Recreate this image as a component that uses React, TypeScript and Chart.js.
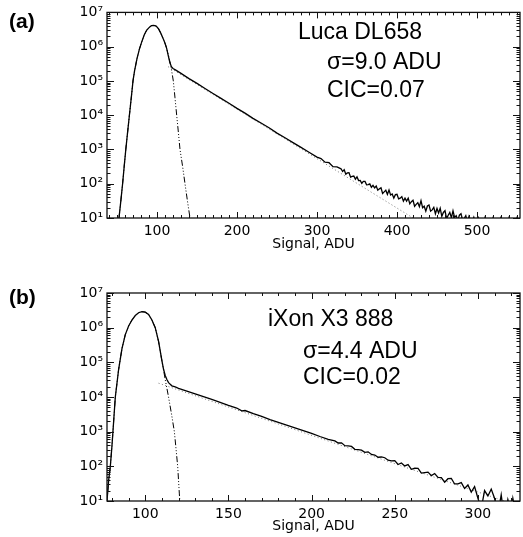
import { useEffect, useRef } from "react";
import { Chart, registerables } from "chart.js";

Chart.register(...registerables);

// ---------- shared ----------
const xTitle = "Signal, ADU";
const yDecades = [1e1, 1e2, 1e3, 1e4, 1e5, 1e6, 1e7];
const yMinorMultipliers = [2, 3, 4, 5, 6, 7, 8, 9];
const superscripts: Record<number, string> = { 1: "¹", 2: "²", 3: "³", 4: "⁴", 5: "⁵", 6: "⁶", 7: "⁷" };

// ---------- panel (a): Luca DL658 ----------
const aDataSignal = [
  48, 50, 52.5, 55, 57, 59, 61, 63, 65.5, 68,
  70, 72, 75, 78, 81, 84, 87, 90, 93, 96,
  99, 102, 105, 108, 110, 112, 114, 116, 118, 120,
  123, 126, 130, 140, 150, 160, 170, 180, 190, 200,
  210, 220, 230, 240, 250, 260, 270, 280, 290, 300,
  305, 310, 315, 320, 325,
  330, 332, 334, 336, 338, 340, 342, 344, 346, 348,
  350, 352, 354, 356, 358, 360, 362, 364, 366, 368,
  370, 372, 374, 376, 378, 380, 382, 384, 386, 388,
  390, 392, 394, 396, 398, 400, 402, 404, 406, 408,
  410, 412, 414, 416, 418, 420, 422, 424, 426, 428,
  430, 432, 434, 436, 438, 440, 442, 444, 446, 448,
  450, 452, 454, 456, 458, 460, 462, 464, 466, 468,
  470, 472, 474, 476, 478, 480, 482, 484, 486, 488,
  490,
  493, 496, 499, 502, 506, 510, 515, 520, 525, 530,
  535, 540, 545, 550, 553,
];
const aDataCounts = [
  1, 2.5, 10, 35, 100, 320, 1000, 2800, 1e4, 3.5e4,
  1e5, 2e5, 4.5e5, 8.5e5, 1.4e6, 2.2e6, 3e6, 3.6e6, 4.1e6, 4.2e6,
  4e6, 3.3e6, 2.4e6, 1.66e6, 1.26e6, 9.1e5, 5.6e5, 3.5e5, 2.6e5, 2.3e5,
  2.1e5, 1.9e5, 1.66e5, 1.17e5, 8.5e4, 6e4, 4.3e4, 3.1e4, 2.24e4, 1.58e4,
  1.15e4, 8100, 5900, 4300, 3000, 2200, 1580, 1150, 830, 600,
  543, 427, 412, 316, 309,
  273, 228, 255, 191, 207, 210, 156, 163, 168, 136,
  158, 124, 125, 103, 117, 117, 93, 94, 99, 79,
  90, 76, 86, 65, 71, 76, 52, 58, 65, 49,
  66, 47, 50, 38, 48, 49, 36, 38, 42, 31,
  38, 31, 38, 26, 30, 33, 22, 25, 28, 21.5,
  32, 20, 22, 15.8, 22.4, 24, 15.8, 17.2, 20.4, 13.3,
  19, 14, 19.3, 11.2, 14.5, 16.3, 9.6, 12, 14.5, 10.2,
  16.2, 10.4, 11.7, 8.5, 12.1, 13.3, 8.8, 9.7, 11.7, 7.7,
  11.2,
  7, 10.5, 6, 10, 5, 10.3, 4, 10, 6, 10.5,
  3, 10, 5, 10.2, 4,
];
const aGaussSignal = [
  48, 50, 52.5, 55, 57, 59, 61, 63, 65.5, 68,
  70, 72, 75, 78, 81, 84, 87, 90, 93, 96,
  99, 102, 105, 108, 110, 112, 115, 118, 120.4, 122.5,
  124.6, 126.7, 128.75, 132, 135, 138, 141.25, 143,
];
const aGaussCounts = [
  1, 2.5, 10, 35, 100, 320, 1000, 2800, 1e4, 3.5e4,
  1e5, 2e5, 4.5e5, 8.5e5, 1.4e6, 2.2e6, 3e6, 3.6e6, 4.1e6, 4.2e6,
  4e6, 3.3e6, 2.4e6, 1.66e6, 1.26e6, 9.1e5, 4.8e5, 2.2e5, 1e5, 3.2e4,
  1e4, 3200, 1000, 320, 100, 32, 10, 5,
];
const aExpSignal = [114, 425];
const aExpCounts = [2.6e5, 8.5];
const aXMin = 37.5;
const aXMax = 553.75;
const aXLabels = [100, 200, 300, 400, 500];
const aNotes = ["Luca DL658", "σ=9.0 ADU", "CIC=0.07"];

// ---------- panel (b): iXon X3 888 ----------
const bDataSignal = [
  76, 77, 78, 79, 80, 81, 82, 84, 86, 88,
  90, 92, 94, 96, 98, 100, 102, 104, 106, 108,
  110, 111, 112, 113, 114, 116, 118, 120, 125, 130,
  135, 140, 145, 150, 155, 158, 160, 165, 170, 175,
  180, 185, 190, 195, 200, 205, 210,
  214, 216, 218, 220, 222, 224, 226, 228, 230, 232,
  234, 236, 238, 240, 242, 244, 246, 248, 250, 252,
  254, 256, 258, 260, 262, 264, 266, 268, 270, 272,
  274, 276, 278, 280, 282, 284, 286, 288, 290, 292,
  294,
  296, 298, 300, 302, 304, 306, 308, 310, 312, 314,
  316, 318, 320, 321, 323, 325,
];
const bDataCounts = [
  2, 10, 40, 100, 400, 2000, 1e4, 6.3e4, 2.5e5, 6.3e5,
  1.12e6, 1.66e6, 2.24e6, 2.7e6, 2.9e6, 2.8e6, 2.4e6, 1.66e6, 1e6, 4e5,
  1.12e5, 6.3e4, 4.2e4, 3.2e4, 2.6e4, 2.1e4, 1.95e4, 1.78e4, 1.48e4, 1.23e4,
  1.02e4, 8500, 7000, 5750, 4800, 4000, 4070, 3300, 2750, 2240,
  1860, 1550, 1290, 1070, 890, 725, 600,
  542, 472, 475, 393, 390, 374, 309, 303, 294, 253,
  262, 221, 212, 183, 186, 177, 150, 144, 146, 113,
  125, 103, 112, 82, 88, 87, 64, 66, 68, 54,
  62, 48, 47, 35, 44, 45, 31, 31, 34, 23,
  29,
  18, 26, 12, 6, 20, 14, 22, 12, 4, 15,
  3, 11, 5, 12, 4, 10,
];
const bGaussSignal = [
  76, 77, 78, 79, 80, 81, 82, 84, 86, 88,
  90, 92, 94, 96, 98, 100, 102, 104, 106, 108,
  110, 112, 114, 116, 117.5, 118.5, 119.5, 120.5, 121.5,
];
const bGaussCounts = [
  2, 10, 40, 100, 400, 2000, 1e4, 6.3e4, 2.5e5, 6.3e5,
  1.12e6, 1.66e6, 2.24e6, 2.7e6, 2.9e6, 2.8e6, 2.4e6, 1.66e6, 1e6, 4e5,
  1.12e5, 3.2e4, 1e4, 2800, 1000, 320, 100, 16, 3,
];
const bExpSignal = [108, 325];
const bExpCounts = [2.5e4, 7.1];
const bXMin = 77;
const bXMax = 325.3;
const bXLabels = [100, 150, 200, 250, 300];
const bNotes = ["iXon X3 888", "σ=4.4 ADU", "CIC=0.02"];

// ---------- chart setup ----------
type PanelCfg = {
  height: number;
  padTop: number;
  xAxisHeight: number;
  titlePad: number;
  xMin: number;
  xMax: number;
  xLabels: number[];
  xMinorStep: number;
  xMajorStep: number;
  dataX: number[];
  dataY: number[];
  gaussX: number[];
  gaussY: number[];
  expX: number[];
  expY: number[];
  notes: string[];
  notePos: [number, number][];
  panelLabel: string;
  panelLabelY: number;
};

const pts = (xs: number[], ys: number[]) => xs.map((x, i) => ({ x, y: ys[i] }));

function decorPlugin(cfg: PanelCfg) {
  return {
    id: "decor",
    afterDatasetsDraw(chart: any) {
      const { ctx, chartArea: ca, scales } = chart;
      const xs = scales.x;
      const ys = scales.y;
      ctx.save();
      ctx.strokeStyle = "#111";
      ctx.lineWidth = 1.3;
      ctx.strokeRect(ca.left, ca.top, ca.right - ca.left, ca.bottom - ca.top);
      ctx.lineWidth = 1;
      const seg = (x1: number, y1: number, x2: number, y2: number) => {
        ctx.beginPath();
        ctx.moveTo(x1, y1);
        ctx.lineTo(x2, y2);
        ctx.stroke();
      };
      // x ticks (bottom + top, inward)
      const first = Math.ceil(cfg.xMin / cfg.xMinorStep);
      const last = Math.floor(cfg.xMax / cfg.xMinorStep);
      for (let i = first; i <= last; i++) {
        const v = i * cfg.xMinorStep;
        const major = Math.abs(v / cfg.xMajorStep - Math.round(v / cfg.xMajorStep)) < 1e-9;
        const len = major ? 6 : 3;
        const px = Math.round(xs.getPixelForValue(v)) + 0.5;
        seg(px, ca.bottom, px, ca.bottom - len);
        seg(px, ca.top, px, ca.top + len);
      }
      // y ticks (left + right, inward)
      yDecades.forEach((d) => {
        const py = Math.round(ys.getPixelForValue(d)) + 0.5;
        seg(ca.left, py, ca.left + 7, py);
        seg(ca.right, py, ca.right - 7, py);
        if (d < 1e7) {
          yMinorMultipliers.forEach((m) => {
            const q = Math.round(ys.getPixelForValue(d * m)) + 0.5;
            seg(ca.left, q, ca.left + 3.5, q);
            seg(ca.right, q, ca.right - 3.5, q);
          });
        }
      });
      // annotations
      ctx.fillStyle = "#000";
      ctx.textBaseline = "middle";
      ctx.textAlign = "left";
      ctx.font = '23px "Liberation Sans", Arial, sans-serif';
      cfg.notes.forEach((t, i) => ctx.fillText(t, cfg.notePos[i][0], cfg.notePos[i][1]));
      ctx.font = 'bold 21px "Liberation Sans", Arial, sans-serif';
      ctx.fillText(cfg.panelLabel, 9, cfg.panelLabelY);
      ctx.restore();
    },
  };
}

function Panel({ cfg, top }: { cfg: PanelCfg; top: number }) {
  const ref = useRef<HTMLCanvasElement>(null);
  useEffect(() => {
    if (!ref.current) return;
    const chart = new Chart(ref.current, {
      type: "line",
      data: {
        datasets: [
          {
            data: pts(cfg.dataX, cfg.dataY),
            borderColor: "#000",
            borderWidth: 1.3,
            pointRadius: 0,
            tension: 0,
            fill: false,
            clip: 0,
          },
          {
            data: pts(cfg.gaussX, cfg.gaussY),
            borderColor: "#000",
            borderWidth: 1,
            borderDash: [6, 2, 1, 2, 1, 2, 1, 2],
            pointRadius: 0,
            tension: 0,
            fill: false,
            clip: 0,
          },
          {
            data: pts(cfg.expX, cfg.expY),
            borderColor: "#777",
            borderWidth: 1,
            borderDash: [1, 2.5],
            pointRadius: 0,
            tension: 0,
            fill: false,
            clip: 0,
          },
        ],
      } as any,
      options: {
        animation: false,
        responsive: false,
        maintainAspectRatio: false,
        events: [],
        layout: { padding: { left: 0, right: 3, top: cfg.padTop, bottom: 0 }, autoPadding: false } as any,
        plugins: { legend: { display: false }, tooltip: { enabled: false } },
        scales: {
          x: {
            type: "linear",
            min: cfg.xMin,
            max: cfg.xMax,
            grid: { display: false, drawTicks: false },
            border: { display: false },
            ticks: { font: { family: "DejaVu Sans", size: 14 }, color: "#000", padding: 5, maxRotation: 0, autoSkip: false },
            afterBuildTicks: (s: any) => {
              s.ticks = cfg.xLabels.map((v) => ({ value: v }));
            },
            afterFit: (s: any) => {
              s.height = cfg.xAxisHeight;
            },
            title: {
              display: true,
              text: xTitle,
              color: "#000",
              font: { family: "DejaVu Sans", size: 14 },
              padding: { top: 0, bottom: cfg.titlePad },
            },
          },
          y: {
            type: "logarithmic",
            min: 10,
            max: 1e7,
            grid: { display: false, drawTicks: false },
            border: { display: false },
            ticks: {
              font: { family: "DejaVu Sans", size: 14 },
              color: "#000",
              padding: 4,
              autoSkip: false,
              callback: (v: any) => "10" + (superscripts[Math.round(Math.log10(Number(v)))] || ""),
            },
            afterBuildTicks: (s: any) => {
              s.ticks = yDecades.map((v) => ({ value: v }));
            },
            afterFit: (s: any) => {
              s.width = 107;
            },
          },
        },
      } as any,
      plugins: [decorPlugin(cfg)],
    });
    return () => chart.destroy();
  }, [cfg]);
  return (
    <canvas
      ref={ref}
      width={523}
      height={cfg.height}
      style={{ position: "absolute", left: 0, top, width: 523, height: cfg.height, display: "block" }}
    />
  );
}

const panelA: PanelCfg = {
  height: 268,
  padTop: 10,
  xAxisHeight: 50,
  titlePad: 15,
  xMin: aXMin,
  xMax: aXMax,
  xLabels: aXLabels,
  xMinorStep: 10,
  xMajorStep: 100,
  dataX: aDataSignal,
  dataY: aDataCounts,
  gaussX: aGaussSignal,
  gaussY: aGaussCounts,
  expX: aExpSignal,
  expY: aExpCounts,
  notes: aNotes,
  notePos: [
    [298, 33],
    [327, 63],
    [327, 91],
  ],
  panelLabel: "(a)",
  panelLabelY: 22,
};

const panelB: PanelCfg = {
  height: 269,
  padTop: 25,
  xAxisHeight: 36,
  titlePad: 2,
  xMin: bXMin,
  xMax: bXMax,
  xLabels: bXLabels,
  xMinorStep: 10,
  xMajorStep: 50,
  dataX: bDataSignal,
  dataY: bDataCounts,
  gaussX: bGaussSignal,
  gaussY: bGaussCounts,
  expX: bExpSignal,
  expY: bExpCounts,
  notes: bNotes,
  notePos: [
    [268, 52],
    [303, 84],
    [303, 110],
  ],
  panelLabel: "(b)",
  panelLabelY: 30,
};

export default function App() {
  return (
    <div style={{ position: "absolute", left: 0, top: 0, width: 523, height: 537, background: "#fff" }}>
      <Panel cfg={panelA} top={0} />
      <Panel cfg={panelB} top={268} />
    </div>
  );
}
